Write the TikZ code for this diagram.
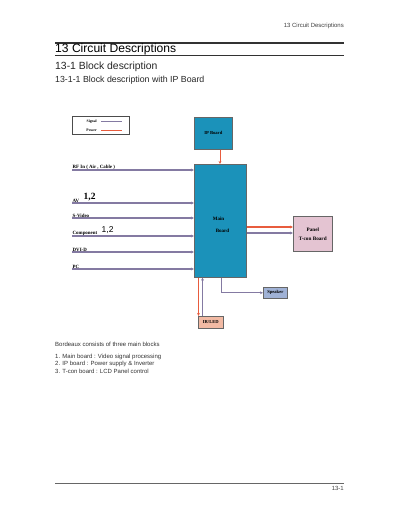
\documentclass[tikz,border=0pt]{standalone}
\usepackage{fontspec}
\setmainfont{Liberation Sans}
\newfontfamily\serifb{Liberation Serif}
\usetikzlibrary{arrows.meta}
\definecolor{mainblue}{RGB}{27,146,186}
\definecolor{panelpink}{RGB}{228,196,210}
\definecolor{spkblue}{RGB}{160,178,214}
\definecolor{irled}{RGB}{242,186,164}
\definecolor{sigcol}{RGB}{132,122,162}
\definecolor{powcol}{RGB}{232,92,62}
\definecolor{rulecol}{RGB}{50,50,50}
\tikzset{
  x=1pt,y=-1pt,
  blk/.style={draw=black!60,line width=0.6pt,inner sep=0pt,anchor=north west,font=\serifb\bfseries\fontsize{4.6}{5}\selectfont,align=center},
  sig/.style={draw=sigcol,line width=1.2pt,-{Stealth[length=3pt,width=2.8pt]}},
  pow/.style={draw=powcol,line width=1.2pt,-{Stealth[length=3pt,width=2.8pt]}},
  inlab/.style={anchor=south west,inner sep=0.5pt,font=\serifb\bfseries\fontsize{4.9}{5}\selectfont},
  hd/.style={anchor=west,inner sep=0pt},
  body/.style={anchor=west,inner sep=0pt,font=\fontsize{6}{7}\selectfont,text=black!80},
}
\begin{document}
\begin{tikzpicture}
\useasboundingbox (0,0) rectangle (400,518);
\fill[white] (0,0) rectangle (400,518);
% header
\node[anchor=east,inner sep=0pt,font=\fontsize{6}{7}\selectfont,text=black!75] (hdr) at (344,26) {13 Circuit Descriptions};
\draw[rulecol,line width=1.6pt] (55,43) -- (344,43);
\node[hd,font=\fontsize{12.1}{13}\selectfont] (t1) at (55,49.5) {13 Circuit Descriptions};
\draw[rulecol,line width=0.8pt] (55,55.5) -- (344,55.5);
\node[hd,font=\fontsize{10.4}{11}\selectfont,text=black!85] (t2) at (55,67) {13-1 Block description};
\node[hd,font=\fontsize{8.8}{10}\selectfont,text=black!85] (t3) at (55,80.5) {13-1-1 Block description with IP Board};
% legend
\node[draw=black!70,line width=0.6pt,anchor=north west,minimum width=57pt,minimum height=18pt,inner sep=0pt] (leg) at (72,116) {};
\node[anchor=east,inner sep=0pt,font=\serifb\bfseries\fontsize{3.8}{4}\selectfont] (ls) at (97,121.5) {Signal};
\node[anchor=east,inner sep=0pt,font=\serifb\bfseries\fontsize{3.8}{4}\selectfont] (lp) at (97,130.5) {Power};
\coordinate (ls1) at (101,121.5); \coordinate (ls2) at (122,121.5);
\coordinate (lp1) at (101,130.5); \coordinate (lp2) at (122,130.5);
\draw[sigcol,line width=0.8pt] (ls1) -- (ls2);
\draw[powcol,line width=0.8pt] (lp1) -- (lp2);
% blocks
\node[blk,fill=mainblue,minimum width=38pt,minimum height=32pt] (ip) at (194,117) {IP Board};
\node[blk,fill=mainblue,minimum width=52pt,minimum height=113pt] (mb) at (194,164) {};
\node[font=\serifb\bfseries\fontsize{5}{5}\selectfont,align=left,inner sep=0pt] (mbt) at (221,225) {Main\\[7pt]\hspace*{3pt}Board};
\node[blk,fill=panelpink,minimum width=39pt,minimum height=35pt,font=\serifb\bfseries\fontsize{5.2}{6}\selectfont] (pn) at (293,216) {Panel\\[3pt]T-con Board};
\node[blk,fill=spkblue,minimum width=24pt,minimum height=11pt] (sp) at (263,287) {Speaker};
\node[blk,fill=irled,minimum width=25pt,minimum height=12pt] (ir) at (198,316) {IR/LED};
% power IP -> main
\draw[pow,line width=0.9pt] (ip.south -| 220,0) -- (mb.north -| 220,0);
% inputs
\foreach \y/\n in {170/rf,203/av,218/sv,236/cp,252/dv,269/pc}{
  \coordinate (\n) at (72,\y);
  \draw[sig] (\n) -- (mb.west |- \n);
}
\node[inlab] (rfl) at (rf) {RF In ( Air , Cable )};
\node[inlab] (avl) at (av) {AV};
\node[anchor=south west,inner sep=0.5pt,font=\serifb\bfseries\fontsize{9.5}{9}\selectfont] (av12) at (83,202) {1,2};
\node[inlab] (svl) at (sv) {S-Video};
\node[inlab] (cpl) at (cp) {Component};
\node[anchor=south west,inner sep=0.5pt,font=\fontsize{8.5}{9}\selectfont] (cp12) at (101,234.5) {1,2};
\node[inlab] (dvl) at (dv) {DVI-D};
\node[inlab] (pcl) at (pc) {PC};
% main -> panel
\draw[pow] (mb.east |- 0,227) -- (pn.west |- 0,227);
\draw[sig] (mb.east |- 0,233) -- (pn.west |- 0,233);
% main -> speaker
\draw[sigcol,line width=0.9pt,-{Stealth[length=3pt,width=2.8pt]}] (mb.south -| 221,0) |- (sp.west);
% main <-> IR/LED
\draw[pow,line width=0.9pt] (mb.south -| 198.5,0) -- (ir.north -| 198.5,0);
\draw[sig,line width=0.9pt] (ir.north -| 202.5,0) -- (mb.south -| 202.5,0);
% body text
\node[body] (b0) at (55,344) {Bordeaux consists of three main blocks};
\node[body] (b1) at (55,357) {1. Main board : Video signal processing};
\node[body] (b2) at (55,364) {2. IP board : Power supply \& Inverter};
\node[body] (b3) at (55,371) {3. T-con board : LCD Panel control};
% footer
\draw[black!60,line width=1pt] (55,483) -- (344,483);
\node[anchor=east,inner sep=0pt,font=\fontsize{6}{7}\selectfont,text=black!75] (pg) at (344,488.5) {13-1};
\end{tikzpicture}
\end{document}
